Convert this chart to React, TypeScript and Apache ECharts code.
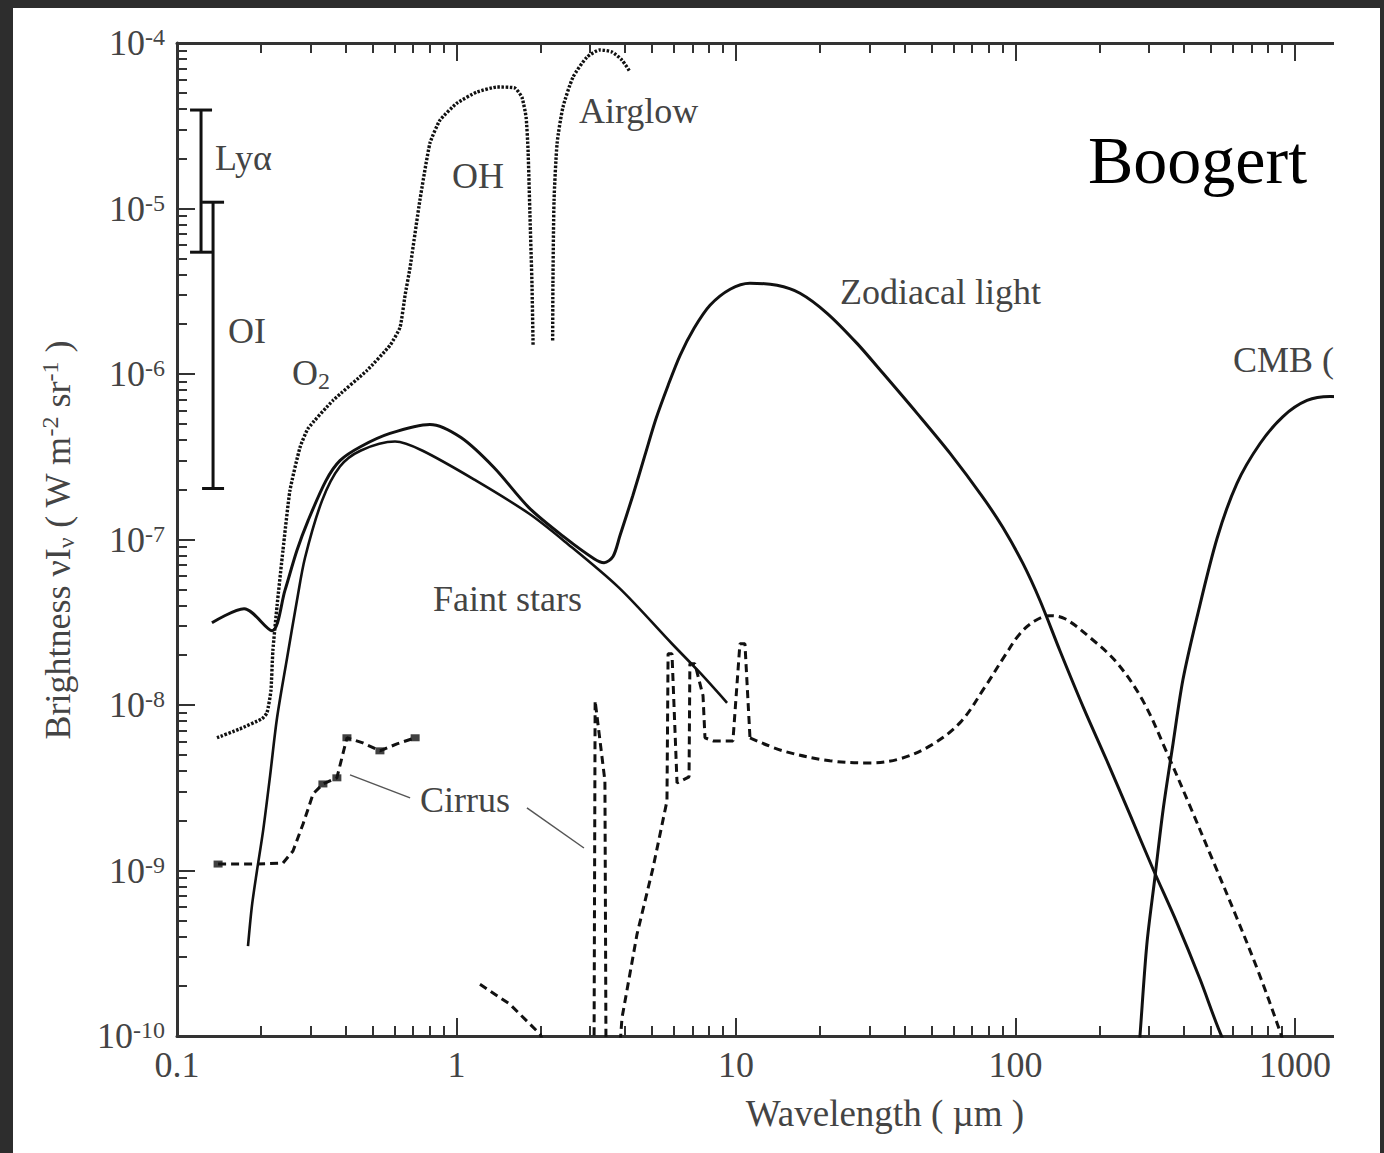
import { useEffect, useRef } from 'react';
import * as echarts from 'echarts';

const FONT = '"Liberation Serif", "Times New Roman", Times, serif';
const INK = '#111111';
const GREY = '#444444';
const AXIS = '#333333';

// All pairs: [log10(wavelength / µm), log10(brightness / W m^-2 sr^-1)]
const zodiacalLight: number[][] = [
  [-0.875, -7.503], [-0.760, -7.418], [-0.660, -7.551], [-0.614, -7.309], [-0.571, -7.067],
  [-0.531, -6.886], [-0.467, -6.644], [-0.417, -6.523], [-0.342, -6.438], [-0.238, -6.359],
  [-0.095, -6.305], [0.016, -6.384], [0.134, -6.565], [0.259, -6.807],
  [0.388, -6.989], [0.492, -7.116], [0.528, -7.140], [0.560, -7.103], [0.585, -6.976],
  [0.631, -6.734], [0.674, -6.492], [0.714, -6.269], [0.757, -6.069], [0.800, -5.887],
  [0.850, -5.724], [0.907, -5.585], [0.979, -5.488], [1.050, -5.452], [1.147, -5.464],
  [1.229, -5.512], [1.326, -5.633], [1.433, -5.815], [1.526, -5.996], [1.648, -6.238],
  [1.766, -6.480], [1.884, -6.747], [1.955, -6.928], [2.027, -7.146], [2.088, -7.370],
  [2.159, -7.672], [2.242, -8.011], [2.327, -8.337], [2.410, -8.664], [2.492, -8.991],
  [2.578, -9.318], [2.660, -9.656], [2.739, -10.007], [2.775, -10.092],
];

const faintStars: number[][] = [
  [-0.746, -9.457], [-0.732, -9.215], [-0.714, -9.003], [-0.692, -8.761], [-0.667, -8.428],
  [-0.642, -8.077], [-0.606, -7.714], [-0.571, -7.370], [-0.542, -7.110], [-0.481, -6.765],
  [-0.417, -6.559], [-0.342, -6.462], [-0.220, -6.408], [-0.123, -6.462], [0.070, -6.644],
  [0.259, -6.843], [0.388, -7.013], [0.581, -7.291], [0.771, -7.630], [0.871, -7.805],
  [0.968, -7.987],
];

const airglowUVtoOH: number[][] = [
  [-0.857, -8.198], [-0.775, -8.144], [-0.696, -8.083], [-0.678, -8.047], [-0.664, -7.914],
  [-0.657, -7.672], [-0.642, -7.400], [-0.621, -7.067], [-0.596, -6.704], [-0.560, -6.444],
  [-0.531, -6.329], [-0.442, -6.160], [-0.320, -5.978], [-0.238, -5.827], [-0.202, -5.718],
  [-0.184, -5.524], [-0.166, -5.355], [-0.131, -4.950], [-0.095, -4.605], [-0.059, -4.466],
  [0.002, -4.363], [0.073, -4.296], [0.145, -4.266], [0.209, -4.272], [0.234, -4.327],
  [0.249, -4.448], [0.256, -4.647], [0.263, -5.053], [0.270, -5.452], [0.274, -5.827],
];

const airglowNIR: number[][] = [
  [0.344, -5.797], [0.345, -5.452], [0.349, -4.950], [0.360, -4.605], [0.381, -4.387],
  [0.417, -4.206], [0.467, -4.085], [0.513, -4.042], [0.556, -4.054], [0.592, -4.103],
  [0.621, -4.175],
];

const cmb: number[][] = [
  [2.438, -10.153], [2.445, -10.007], [2.470, -9.445], [2.499, -9.039], [2.528, -8.634],
  [2.564, -8.229], [2.599, -7.848], [2.649, -7.472], [2.721, -6.994], [2.792, -6.662],
  [2.875, -6.420], [2.957, -6.257], [3.043, -6.160], [3.125, -6.136], [3.268, -6.142],
];

const cirrusOptical: number[][] = [
  [-0.853, -8.961], [-0.714, -8.961], [-0.621, -8.955], [-0.585, -8.882], [-0.549, -8.719],
  [-0.513, -8.537], [-0.478, -8.477], [-0.428, -8.440], [-0.410, -8.319], [-0.392, -8.198],
  [-0.335, -8.229], [-0.274, -8.277], [-0.213, -8.235], [-0.148, -8.198],
];

const cirrusPoints: number[][] = [
  [-0.853, -8.961], [-0.478, -8.477], [-0.428, -8.440], [-0.392, -8.198], [-0.274, -8.277], [-0.148, -8.198],
];

const cirrusNearIR: number[][] = [
  [0.084, -9.687], [0.191, -9.808], [0.299, -9.989], [0.327, -10.092],
];

// PAH band region (sharp features)
const cirrusPAH: number[][] = [
  [0.492, -10.153], [0.496, -7.975], [0.531, -8.459], [0.535, -10.153], [0.581, -10.153],
  [0.592, -9.892], [0.646, -9.384], [0.703, -8.985], [0.753, -8.580], [0.757, -7.690],
  [0.771, -7.690], [0.789, -8.471], [0.832, -8.434], [0.835, -7.751], [0.853, -7.751],
  [0.882, -7.944], [0.889, -8.198], [0.918, -8.217], [0.989, -8.217], [1.014, -7.630],
  [1.032, -7.630], [1.050, -8.198],
];

// thermal dust emission
const cirrusFarIR: number[][] = [
  [1.050, -8.198], [1.168, -8.277], [1.336, -8.337], [1.479, -8.350], [1.587, -8.325],
  [1.694, -8.247], [1.801, -8.108], [1.891, -7.890], [1.962, -7.702], [2.016, -7.569],
  [2.070, -7.491], [2.123, -7.460], [2.177, -7.479], [2.267, -7.593], [2.363, -7.745],
  [2.456, -7.975], [2.542, -8.289], [2.624, -8.610], [2.707, -8.943], [2.789, -9.275],
  [2.868, -9.608], [2.946, -9.971], [2.968, -10.092],
];

const cirrusPointerLeft: number[][] = [[-0.381, -8.422], [-0.166, -8.561]];
const cirrusPointerRight: number[][] = [[0.252, -8.622], [0.456, -8.864]];

// [log10 λ, log10 low, log10 high] for the Lyα and OI lines
const emissionBars: number[][] = [
  [-0.914, -5.264, -4.405],
  [-0.871, -6.692, -4.962],
];

const xTickExponents = [-1, 0, 1, 2, 3];

const lin = (pts: number[][]) => pts.map((p) => p.map((v) => Math.pow(10, v)));

function lineSeries(name: string, data: number[][], width: number, type: any, smooth: number | boolean, color = INK) {
  return {
    name,
    type: 'line',
    data: lin(data),
    showSymbol: false,
    symbol: 'none',
    smooth,
    clip: true,
    lineStyle: { color, width, type, cap: 'butt' },
    z: 3,
  };
}

function label(text: string, x: number, y: number, size = 36, fill = GREY, extra: any = {}) {
  return {
    type: 'text',
    x,
    y,
    z: 60,
    style: {
      text,
      fill,
      font: `${size}px ${FONT}`,
      fontSize: size,
      fontFamily: FONT,
      align: 'left',
      textAlign: 'left',
      verticalAlign: 'middle',
      textVerticalAlign: 'middle',
      ...extra,
    },
  };
}

export default function App() {
  const ref = useRef<HTMLDivElement>(null);

  useEffect(() => {
    const chart = echarts.init(ref.current!, undefined, { renderer: 'svg' });

    const axisCommon = {
      type: 'log',
      logBase: 10,
      axisLine: { show: true, lineStyle: { color: AXIS, width: 3 } },
      axisTick: { show: true, inside: true, length: 18, lineStyle: { color: AXIS, width: 2 } },
      minorTick: { show: true, splitNumber: 9, length: 10, lineStyle: { color: AXIS, width: 2 } },
      splitLine: { show: false },
      minorSplitLine: { show: false },
    };

    const xLabelFormatter = (v: number) => {
      const e = Math.round(Math.log10(v));
      if (Math.abs(Math.log10(v) - e) > 1e-6 || xTickExponents.indexOf(e) < 0) return '';
      return e < 0 ? (Math.pow(10, e)).toFixed(-e) : String(Math.pow(10, e));
    };

    const supRich = {
      b: { fontSize: 36, fontFamily: FONT, color: GREY, lineHeight: 36 },
      s: { fontSize: 24, fontFamily: FONT, color: GREY, verticalAlign: 'top', lineHeight: 26 },
    };

    const dotted = [2.5, 1.6];
    const dashed = [8, 5];

    chart.setOption({
      animation: false,
      backgroundColor: '#ffffff',
      textStyle: { fontFamily: FONT },
      grid: { left: 177, top: 43, width: 1397.5, height: 993, containLabel: false },
      xAxis: [
        {
          ...axisCommon,
          position: 'bottom',
          min: 0.1,
          max: 10000,
          axisLabel: {
            show: true,
            margin: 11,
            fontSize: 36,
            fontFamily: FONT,
            color: GREY,
            formatter: xLabelFormatter,
          },
        },
        {
          ...axisCommon,
          position: 'top',
          min: 0.1,
          max: 10000,
          axisLabel: { show: false },
        },
      ],
      yAxis: {
        ...axisCommon,
        position: 'left',
        min: 1e-10,
        max: 1e-4,
        axisLabel: {
          show: true,
          margin: 12,
          fontSize: 36,
          fontFamily: FONT,
          color: GREY,
          formatter: (v: number) => `{b|10}{s|${Math.round(Math.log10(v))}}`,
          rich: supRich,
        },
      },
      series: [
        lineSeries('Zodiacal light', zodiacalLight, 3, 'solid', 0.3),
        lineSeries('Faint stars', faintStars, 2.6, 'solid', 0.3),
        lineSeries('Airglow', airglowUVtoOH, 3.4, dotted, 0.15),
        lineSeries('Airglow NIR', airglowNIR, 3.4, dotted, 0.2),
        lineSeries('CMB', cmb, 3, 'solid', 0.3),
        lineSeries('Cirrus', cirrusOptical, 3, dashed, false),
        lineSeries('Cirrus NIR', cirrusNearIR, 3, dashed, false),
        lineSeries('Cirrus PAH', cirrusPAH, 3, dashed, false),
        lineSeries('Cirrus FIR', cirrusFarIR, 3, dashed, 0.35),
        lineSeries('Cirrus pointer 1', cirrusPointerLeft, 1.5, 'solid', false, '#555'),
        lineSeries('Cirrus pointer 2', cirrusPointerRight, 1.5, 'solid', false, '#555'),
        {
          name: 'Cirrus points',
          type: 'scatter',
          data: lin(cirrusPoints),
          symbol: 'rect',
          symbolSize: [9, 7],
          itemStyle: { color: INK },
          z: 4,
        },
        {
          name: 'Lines',
          type: 'custom',
          data: lin(emissionBars),
          encode: { x: 0, y: [1, 2] },
          z: 4,
          renderItem: (_params: any, api: any) => {
            const x = api.value(0);
            const lo = api.coord([x, api.value(1)]);
            const hi = api.coord([x, api.value(2)]);
            const w = 11;
            const st = { stroke: INK, lineWidth: 3 };
            return {
              type: 'group',
              children: [
                { type: 'line', shape: { x1: lo[0], y1: lo[1], x2: hi[0], y2: hi[1] }, style: st },
                { type: 'line', shape: { x1: hi[0] - w, y1: hi[1], x2: hi[0] + w, y2: hi[1] }, style: st },
                { type: 'line', shape: { x1: lo[0] - w, y1: lo[1], x2: lo[0] + w, y2: lo[1] }, style: st },
              ],
            };
          },
        },
      ],
      graphic: [
        label('Lyα', 215, 158),
        label('OI', 228, 331),
        label('{a|O}{b|2}', 292, 373, 36, GREY, {
          rich: {
            a: { fontSize: 36, fontFamily: FONT, fill: GREY, color: GREY, lineHeight: 40 },
            b: { fontSize: 24, fontFamily: FONT, fill: GREY, color: GREY, verticalAlign: 'bottom', lineHeight: 24 },
          },
        }),
        label('OH', 452, 176),
        label('Airglow', 579, 111),
        label('Zodiacal light', 840, 292),
        label('Faint stars', 433, 599),
        label('Cirrus', 420, 800),
        label('CMB (', 1233, 360),
        label('Boogert', 1088, 160, 68, '#000000'),
        {
          type: 'text',
          x: 885,
          y: 1113,
          z: 60,
          style: {
            text: 'Wavelength ( µm )',
            fill: GREY,
            font: `37px ${FONT}`,
            fontSize: 37,
            fontFamily: FONT,
            align: 'center',
            textAlign: 'center',
            verticalAlign: 'middle',
            textVerticalAlign: 'middle',
          },
        },
        {
          type: 'text',
          x: 58,
          y: 540,
          rotation: Math.PI / 2,
          z: 60,
          style: {
            text: '{a|Brightness νI}{sub|ν}{a| ( W m}{sup|-2}{a| sr}{sup|-1}{a| )}',
            fill: GREY,
            font: `36px ${FONT}`,
            align: 'center',
            textAlign: 'center',
            verticalAlign: 'middle',
            textVerticalAlign: 'middle',
            rich: {
              a: { fontSize: 36, fontFamily: FONT, fill: GREY, color: GREY, lineHeight: 40 },
              sub: { fontSize: 24, fontFamily: FONT, fill: GREY, color: GREY, verticalAlign: 'bottom', lineHeight: 24 },
              sup: { fontSize: 24, fontFamily: FONT, fill: GREY, color: GREY, verticalAlign: 'top', lineHeight: 24 },
            },
          },
        },
        // crop of the original figure on the right
        { type: 'rect', z: 150, shape: { x: 1334, y: 0, width: 400, height: 1153 }, style: { fill: '#ffffff' } },
        // dark frame around the picture
        { type: 'rect', z: 200, shape: { x: 0, y: 0, width: 1384, height: 8 }, style: { fill: '#2d2d2d' } },
        { type: 'rect', z: 200, shape: { x: 0, y: 0, width: 13, height: 1153 }, style: { fill: '#2d2d2d' } },
        { type: 'rect', z: 200, shape: { x: 1380, y: 0, width: 20, height: 1153 }, style: { fill: '#2d2d2d' } },
      ],
    });

    return () => chart.dispose();
  }, []);

  return (
    <div
      style={{
        position: 'fixed',
        left: 0,
        top: 0,
        width: 1384,
        height: 1153,
        overflow: 'hidden',
        background: '#ffffff',
      }}
    >
      <div ref={ref} style={{ width: 1700, height: 1153 }} />
    </div>
  );
}
